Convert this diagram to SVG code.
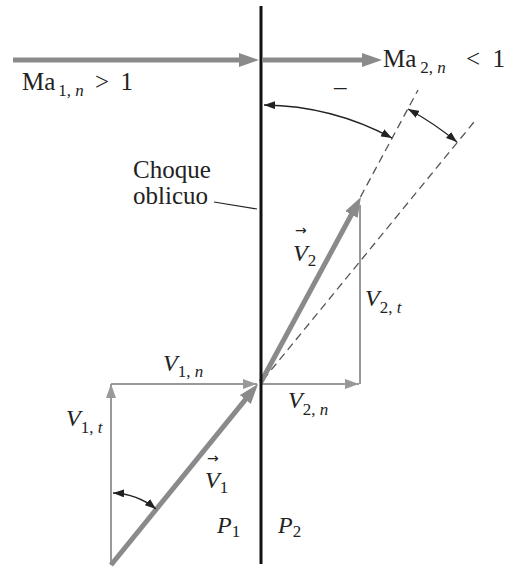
<svg xmlns="http://www.w3.org/2000/svg" width="514" height="569" viewBox="0 0 514 569">
<defs>
<style>
.lbl{font-family:"Liberation Serif","Times New Roman",serif;font-size:25px;fill:#222}
.v{font-family:"Liberation Serif","Times New Roman",serif;font-size:24px;font-style:italic;fill:#222}
.sub{font-size:17px;font-style:normal}
.subi{font-size:17px;font-style:italic}
.vec{font-family:"DejaVu Sans",sans-serif;font-size:14px;fill:#222}
.thick{stroke:#8a8a8a;stroke-width:5;fill:none}
.thin{stroke:#999;stroke-width:2;fill:none}
.dash{stroke:#555;stroke-width:1.3;fill:none;stroke-dasharray:8 5}
.arc{stroke:#222;stroke-width:1.3;fill:none}
</style>
<marker id="bigHead" viewBox="0 0 20 14" refX="10" refY="7" markerWidth="20" markerHeight="14" markerUnits="userSpaceOnUse" orient="auto">
<path d="M0,0 L20,7 L0,14 z" fill="#8a8a8a"/>
</marker>
<marker id="thinHead" viewBox="0 0 14 10" refX="14" refY="5" markerWidth="14" markerHeight="10" markerUnits="userSpaceOnUse" orient="auto">
<path d="M0,0 L14,5 L0,10 z" fill="#999"/>
</marker>
<marker id="arcHead" viewBox="0 0 11 8" refX="11" refY="4" markerWidth="11" markerHeight="8" markerUnits="userSpaceOnUse" orient="auto-start-reverse">
<path d="M0,0 L11,4 L0,8 z" fill="#222"/>
</marker>
</defs>
<rect width="514" height="569" fill="#fff"/>

<g id="connectors">
<line class="thin" x1="111" y1="565" x2="111" y2="384" marker-end="url(#thinHead)"/>
<line class="thin" x1="111" y1="384" x2="257" y2="384" marker-end="url(#thinHead)"/>
<line class="thin" x1="262" y1="384" x2="359" y2="384" marker-end="url(#thinHead)"/>
<line class="thin" x1="360" y1="384" x2="360" y2="205"/>
<line class="dash" x1="262" y1="380" x2="418" y2="90"/>
<line class="dash" x1="263" y1="380" x2="474" y2="122"/>
<line class="thick" x1="13" y1="60" x2="249" y2="60" marker-end="url(#bigHead)"/>
<line class="thick" x1="263" y1="60" x2="372" y2="60" marker-end="url(#bigHead)"/>
<line class="thick" x1="111" y1="565" x2="251.7" y2="391.8" marker-end="url(#bigHead)"/>
<line class="thick" x1="261" y1="382" x2="356.2" y2="205.8" marker-end="url(#bigHead)"/>
<path class="arc" d="M264,105 A277,277 0 0 1 392,138" marker-start="url(#arcHead)" marker-end="url(#arcHead)"/>
<path class="arc" d="M408,109 A310,310 0 0 1 457,142" marker-start="url(#arcHead)" marker-end="url(#arcHead)"/>
<path class="arc" d="M113,493 A72,72 0 0 1 156,509" marker-start="url(#arcHead)" marker-end="url(#arcHead)"/>
<line x1="214" y1="202" x2="257" y2="209" stroke="#222" stroke-width="1.2"/>
</g>

<g id="shock">
<line x1="261" y1="6" x2="261" y2="564" stroke="#111" stroke-width="3"/>
</g>

<g id="label-ma1">
<text class="lbl" x="22" y="90">Ma<tspan class="sub" dx="3" dy="6">1, </tspan><tspan class="subi">n</tspan><tspan dx="5" dy="-6"> &gt;</tspan><tspan dx="5"> 1</tspan></text>
</g>
<g id="label-ma2">
<text class="lbl" x="383" y="67">Ma<tspan class="sub" dx="4" dy="6">2, </tspan><tspan class="subi">n</tspan><tspan dx="14" dy="-6"> &lt;</tspan><tspan dx="6"> 1</tspan></text>
</g>
<g id="label-beta">
<text class="lbl" x="334" y="95">–</text>
</g>
<g id="label-choque">
<text class="lbl" x="133" y="178">Choque</text>
<text class="lbl" x="133" y="204">oblicuo</text>
</g>
<g id="label-V2">
<text class="v" x="293" y="261">V<tspan class="sub" dy="5">2</tspan></text>
<text class="vec" x="295" y="235">→</text>
</g>
<g id="label-V2t">
<text class="v" x="365" y="306">V<tspan class="sub" dy="7">2, </tspan><tspan class="subi">t</tspan></text>
</g>
<g id="label-V1n">
<text class="v" x="163" y="371">V<tspan class="sub" dy="6">1, </tspan><tspan class="subi">n</tspan></text>
</g>
<g id="label-V2n">
<text class="v" x="288" y="408">V<tspan class="sub" dy="7">2, </tspan><tspan class="subi">n</tspan></text>
</g>
<g id="label-V1t">
<text class="v" x="66" y="426">V<tspan class="sub" dy="7">1, </tspan><tspan class="subi">t</tspan></text>
</g>
<g id="label-V1">
<text class="v" x="205" y="488">V<tspan class="sub" dy="5">1</tspan></text>
<text class="vec" x="207" y="463">→</text>
</g>
<g id="label-P1">
<text class="v" x="217" y="533">P<tspan class="sub" dy="4">1</tspan></text>
</g>
<g id="label-P2">
<text class="v" x="278" y="533">P<tspan class="sub" dy="4">2</tspan></text>
</g>
</svg>
